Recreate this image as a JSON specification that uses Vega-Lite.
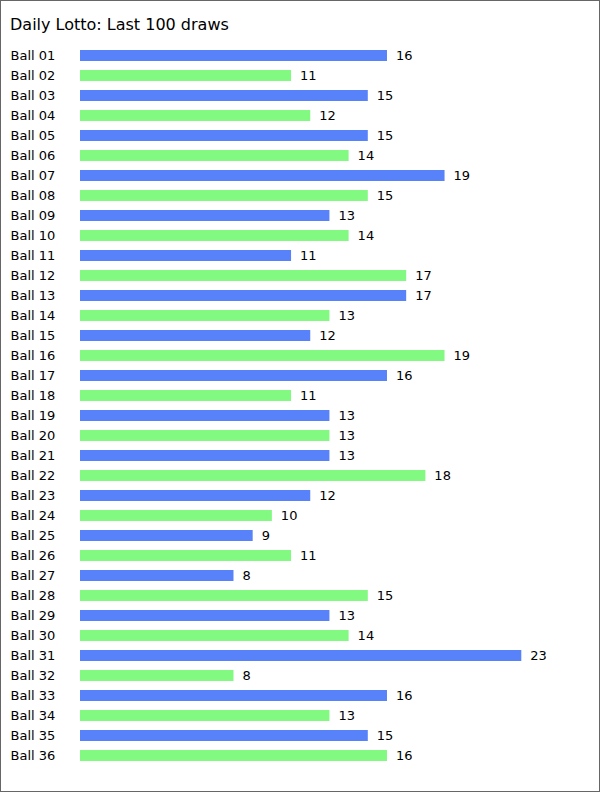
{
  "$schema": "https://vega.github.io/schema/vega-lite/v6.json",
  "width": 600,
  "height": 792,
  "autosize": {"type": "none"},
  "padding": 0,
  "background": "white",
  "title": {
    "text": "Daily Lotto: Last 100 draws",
    "anchor": "start",
    "frame": "group",
    "orient": "top",
    "offset": 0,
    "baseline": "alphabetic",
    "dx": 10,
    "dy": 46,
    "font": "DejaVu Sans",
    "fontSize": 16,
    "fontWeight": "normal",
    "color": "#000000"
  },
  "config": {
    "view": {"stroke": "#666666", "strokeWidth": 2},
    "font": "DejaVu Sans"
  },
  "data": {
    "values": [
      {"ball": "Ball 01", "count": 16, "parity": "odd"},
      {"ball": "Ball 02", "count": 11, "parity": "even"},
      {"ball": "Ball 03", "count": 15, "parity": "odd"},
      {"ball": "Ball 04", "count": 12, "parity": "even"},
      {"ball": "Ball 05", "count": 15, "parity": "odd"},
      {"ball": "Ball 06", "count": 14, "parity": "even"},
      {"ball": "Ball 07", "count": 19, "parity": "odd"},
      {"ball": "Ball 08", "count": 15, "parity": "even"},
      {"ball": "Ball 09", "count": 13, "parity": "odd"},
      {"ball": "Ball 10", "count": 14, "parity": "even"},
      {"ball": "Ball 11", "count": 11, "parity": "odd"},
      {"ball": "Ball 12", "count": 17, "parity": "even"},
      {"ball": "Ball 13", "count": 17, "parity": "odd"},
      {"ball": "Ball 14", "count": 13, "parity": "even"},
      {"ball": "Ball 15", "count": 12, "parity": "odd"},
      {"ball": "Ball 16", "count": 19, "parity": "even"},
      {"ball": "Ball 17", "count": 16, "parity": "odd"},
      {"ball": "Ball 18", "count": 11, "parity": "even"},
      {"ball": "Ball 19", "count": 13, "parity": "odd"},
      {"ball": "Ball 20", "count": 13, "parity": "even"},
      {"ball": "Ball 21", "count": 13, "parity": "odd"},
      {"ball": "Ball 22", "count": 18, "parity": "even"},
      {"ball": "Ball 23", "count": 12, "parity": "odd"},
      {"ball": "Ball 24", "count": 10, "parity": "even"},
      {"ball": "Ball 25", "count": 9, "parity": "odd"},
      {"ball": "Ball 26", "count": 11, "parity": "even"},
      {"ball": "Ball 27", "count": 8, "parity": "odd"},
      {"ball": "Ball 28", "count": 15, "parity": "even"},
      {"ball": "Ball 29", "count": 13, "parity": "odd"},
      {"ball": "Ball 30", "count": 14, "parity": "even"},
      {"ball": "Ball 31", "count": 23, "parity": "odd"},
      {"ball": "Ball 32", "count": 8, "parity": "even"},
      {"ball": "Ball 33", "count": 16, "parity": "odd"},
      {"ball": "Ball 34", "count": 13, "parity": "even"},
      {"ball": "Ball 35", "count": 15, "parity": "odd"},
      {"ball": "Ball 36", "count": 16, "parity": "even"}
    ]
  },
  "encoding": {
    "y": {
      "field": "ball",
      "type": "nominal",
      "sort": null,
      "scale": {"range": [45.5, 765.5], "paddingInner": 0.45, "paddingOuter": 0.225},
      "axis": {
        "title": null,
        "domain": false,
        "ticks": false,
        "tickSize": 0,
        "grid": false,
        "labelAlign": "left",
        "labelBaseline": "middle",
        "labelPadding": -10,
        "labelFont": "DejaVu Sans",
        "labelFontSize": 13,
        "labelColor": "#000000"
      }
    },
    "x": {
      "field": "count",
      "type": "quantitative",
      "scale": {"domain": [0, 23], "range": [80, 521.3], "nice": false, "zero": true},
      "axis": null
    }
  },
  "layer": [
    {
      "mark": {"type": "bar"},
      "encoding": {
        "color": {
          "field": "parity",
          "type": "nominal",
          "scale": {"domain": ["odd", "even"], "range": ["#5882fa", "#82fa82"]},
          "legend": null
        }
      }
    },
    {
      "mark": {"type": "text", "align": "left", "baseline": "middle", "dx": 9, "font": "DejaVu Sans", "fontSize": 13, "color": "#000000"},
      "encoding": {
        "text": {"field": "count", "type": "quantitative"}
      }
    }
  ]
}
